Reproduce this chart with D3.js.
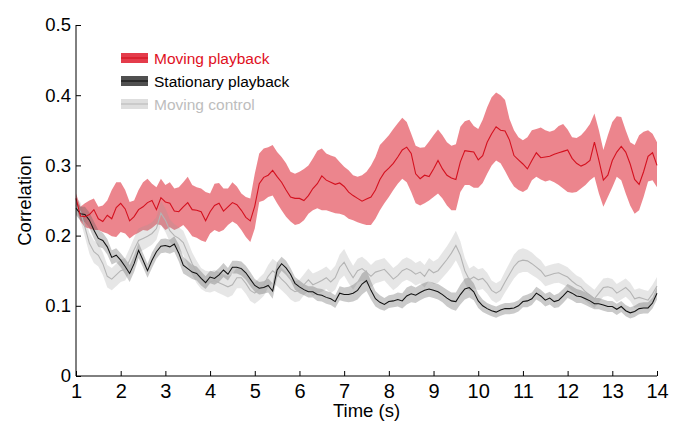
<!DOCTYPE html>
<html>
<head>
<meta charset="utf-8">
<script src="https://cdn.jsdelivr.net/npm/d3@7"></script>
<style>
  html, body { margin: 0; padding: 0; background: #fff; }
  svg { display: block; font-family: "Liberation Sans", Arial, Helvetica, sans-serif; }
</style>
</head>
<body>
<svg id="chart" width="679" height="423"></svg>
<script>
// ---- Data (time in seconds, 0.1 s steps from 1 to 14) ----
const time = d3.range(131).map(i => +(1 + i / 10).toFixed(1));

const xTicks = [1,2,3,4,5,6,7,8,9,10,11,12,13,14];
const yTicks = [0, 0.1, 0.2, 0.3, 0.4, 0.5];

const seriesNames = ["Moving playback", "Stationary playback", "Moving control"];

// Moving playback: mean, lower and upper edge of the shaded band
const movingMean = [
0.253,0.228,0.227,0.230,0.237,0.224,0.220,0.229,0.224,0.240,
0.246,0.238,0.221,0.227,0.237,0.241,0.247,0.250,0.237,0.254,
0.248,0.246,0.235,0.234,0.241,0.247,0.237,0.236,0.234,0.221,
0.234,0.243,0.246,0.235,0.241,0.247,0.244,0.236,0.226,0.221,
0.242,0.274,0.283,0.286,0.293,0.284,0.276,0.265,0.255,0.253,
0.253,0.250,0.257,0.267,0.274,0.285,0.279,0.276,0.273,0.275,
0.270,0.262,0.257,0.253,0.249,0.252,0.255,0.265,0.280,0.290,
0.296,0.303,0.312,0.322,0.326,0.317,0.288,0.281,0.286,0.284,
0.295,0.307,0.295,0.286,0.282,0.280,0.305,0.321,0.320,0.319,
0.308,0.314,0.333,0.345,0.355,0.350,0.349,0.336,0.314,0.308,
0.302,0.295,0.307,0.318,0.311,0.312,0.313,0.316,0.318,0.320,
0.322,0.310,0.303,0.299,0.302,0.307,0.333,0.307,0.279,0.286,
0.307,0.319,0.327,0.319,0.302,0.280,0.273,0.291,0.313,0.318,
0.300];
const movingUpper = [
0.260,0.241,0.246,0.250,0.253,0.241,0.243,0.250,0.265,0.276,
0.276,0.265,0.248,0.250,0.265,0.276,0.281,0.274,0.269,0.281,
0.272,0.276,0.267,0.269,0.276,0.284,0.272,0.269,0.267,0.262,
0.260,0.274,0.275,0.267,0.267,0.276,0.270,0.260,0.255,0.253,
0.288,0.317,0.324,0.326,0.329,0.319,0.312,0.303,0.291,0.288,
0.291,0.295,0.300,0.310,0.321,0.324,0.317,0.314,0.312,0.305,
0.298,0.293,0.286,0.284,0.286,0.291,0.300,0.312,0.329,0.336,
0.343,0.352,0.360,0.368,0.362,0.345,0.328,0.325,0.326,0.334,
0.343,0.351,0.343,0.333,0.328,0.330,0.355,0.363,0.365,0.356,
0.352,0.365,0.383,0.397,0.404,0.400,0.393,0.366,0.350,0.340,
0.336,0.340,0.350,0.352,0.354,0.350,0.348,0.350,0.356,0.359,
0.351,0.340,0.339,0.343,0.350,0.359,0.374,0.350,0.322,0.343,
0.362,0.370,0.369,0.350,0.333,0.329,0.343,0.348,0.350,0.345,
0.333];
const movingLower = [
0.243,0.220,0.212,0.210,0.208,0.208,0.205,0.203,0.199,0.198,
0.205,0.203,0.196,0.201,0.204,0.208,0.207,0.211,0.216,0.215,
0.208,0.212,0.208,0.211,0.215,0.208,0.199,0.197,0.193,0.191,
0.203,0.208,0.205,0.208,0.215,0.220,0.216,0.208,0.198,0.191,
0.210,0.248,0.250,0.255,0.257,0.246,0.236,0.227,0.220,0.215,
0.217,0.222,0.231,0.236,0.239,0.236,0.236,0.234,0.232,0.231,
0.229,0.224,0.222,0.219,0.217,0.215,0.215,0.224,0.236,0.246,
0.255,0.265,0.274,0.281,0.276,0.262,0.246,0.243,0.246,0.250,
0.255,0.260,0.253,0.243,0.236,0.236,0.262,0.272,0.272,0.268,
0.268,0.275,0.288,0.300,0.307,0.303,0.292,0.280,0.270,0.265,
0.262,0.266,0.279,0.284,0.280,0.277,0.279,0.276,0.272,0.267,
0.262,0.261,0.262,0.267,0.272,0.279,0.284,0.260,0.241,0.255,
0.269,0.284,0.279,0.260,0.243,0.231,0.236,0.255,0.277,0.279,
0.269];

// Stationary playback: mean and half-width of band
const stationaryMean = [
0.239,0.231,0.230,0.222,0.208,0.196,0.193,0.184,0.169,0.172,
0.165,0.156,0.146,0.160,0.179,0.165,0.150,0.165,0.177,0.185,
0.186,0.184,0.188,0.175,0.158,0.153,0.148,0.146,0.139,0.133,
0.141,0.139,0.144,0.151,0.145,0.155,0.155,0.153,0.147,0.138,
0.129,0.125,0.126,0.129,0.121,0.151,0.160,0.154,0.145,0.132,
0.127,0.123,0.120,0.120,0.116,0.115,0.112,0.110,0.106,0.118,
0.116,0.116,0.118,0.122,0.131,0.136,0.122,0.110,0.105,0.102,
0.106,0.107,0.109,0.107,0.114,0.117,0.115,0.119,0.122,0.124,
0.122,0.120,0.116,0.111,0.107,0.106,0.116,0.124,0.126,0.120,
0.107,0.100,0.096,0.093,0.091,0.094,0.096,0.096,0.097,0.100,
0.106,0.107,0.110,0.118,0.114,0.108,0.111,0.106,0.108,0.114,
0.121,0.118,0.114,0.113,0.110,0.107,0.103,0.103,0.101,0.099,
0.099,0.095,0.099,0.093,0.090,0.092,0.096,0.097,0.097,0.104,
0.118];
const stationarySem = [
0.010,0.010,0.011,0.011,0.012,0.012,0.011,0.011,0.010,0.010,
0.010,0.011,0.012,0.012,0.011,0.010,0.010,0.011,0.010,0.010,
0.010,0.010,0.011,0.012,0.012,0.011,0.010,0.010,0.010,0.009,
0.009,0.009,0.010,0.010,0.009,0.009,0.009,0.010,0.010,0.010,
0.009,0.009,0.009,0.010,0.011,0.011,0.010,0.010,0.009,0.009,
0.009,0.008,0.008,0.008,0.009,0.009,0.009,0.009,0.009,0.010,
0.010,0.011,0.012,0.013,0.015,0.015,0.013,0.011,0.010,0.009,
0.009,0.009,0.010,0.011,0.012,0.012,0.011,0.011,0.011,0.011,
0.011,0.011,0.011,0.012,0.012,0.013,0.014,0.015,0.014,0.012,
0.010,0.009,0.008,0.008,0.008,0.008,0.008,0.008,0.008,0.008,
0.008,0.009,0.009,0.009,0.009,0.009,0.009,0.009,0.010,0.010,
0.010,0.010,0.010,0.009,0.009,0.009,0.008,0.008,0.008,0.008,
0.008,0.008,0.008,0.008,0.008,0.008,0.008,0.008,0.008,0.008,
0.009];

// Moving control: mean and half-width of band
const controlMean = [
0.243,0.234,0.212,0.189,0.177,0.172,0.160,0.142,0.138,0.144,
0.150,0.152,0.165,0.180,0.193,0.196,0.199,0.203,0.210,0.232,
0.222,0.207,0.200,0.196,0.190,0.175,0.160,0.148,0.139,0.135,
0.134,0.136,0.133,0.130,0.127,0.130,0.140,0.140,0.132,0.122,
0.118,0.124,0.130,0.142,0.150,0.145,0.138,0.132,0.124,0.120,
0.122,0.130,0.137,0.130,0.133,0.136,0.140,0.134,0.140,0.155,
0.162,0.150,0.140,0.150,0.153,0.148,0.142,0.148,0.150,0.152,
0.145,0.138,0.143,0.150,0.153,0.150,0.145,0.148,0.142,0.152,
0.147,0.150,0.158,0.166,0.175,0.186,0.172,0.150,0.137,0.141,
0.137,0.139,0.132,0.122,0.118,0.122,0.134,0.145,0.156,0.163,
0.165,0.164,0.160,0.155,0.150,0.142,0.144,0.146,0.147,0.144,
0.141,0.135,0.130,0.127,0.120,0.115,0.110,0.118,0.126,0.127,
0.125,0.118,0.122,0.126,0.120,0.110,0.112,0.110,0.108,0.117,
0.128];
const controlSem = [
0.012,0.013,0.014,0.015,0.016,0.016,0.016,0.016,0.016,0.016,
0.016,0.016,0.017,0.017,0.017,0.017,0.016,0.016,0.016,0.017,
0.017,0.016,0.016,0.016,0.017,0.017,0.016,0.016,0.015,0.015,
0.015,0.015,0.015,0.015,0.015,0.015,0.015,0.015,0.015,0.015,
0.015,0.016,0.016,0.016,0.017,0.017,0.016,0.016,0.015,0.015,
0.015,0.015,0.016,0.016,0.016,0.016,0.016,0.016,0.017,0.018,
0.019,0.018,0.017,0.017,0.017,0.017,0.016,0.016,0.016,0.016,
0.016,0.016,0.016,0.016,0.016,0.016,0.016,0.016,0.016,0.016,
0.016,0.017,0.018,0.019,0.020,0.021,0.020,0.018,0.016,0.016,
0.015,0.015,0.015,0.014,0.014,0.014,0.015,0.016,0.017,0.017,
0.017,0.016,0.016,0.015,0.015,0.014,0.014,0.014,0.014,0.014,
0.014,0.014,0.013,0.013,0.013,0.013,0.013,0.013,0.013,0.013,
0.013,0.013,0.013,0.013,0.013,0.013,0.013,0.013,0.013,0.013,
0.013];

// ---- Layout ----
const svg = d3.select("#chart");
const margin = { left: 76, right: 22, top: 25, bottom: 47 };
const W = 679, H = 423;

const x = d3.scaleLinear().domain([1, 14]).range([margin.left, W - margin.right]);
const y = d3.scaleLinear().domain([0, 0.5]).range([H - margin.bottom, margin.top]);

const bandArea = (lo, hi) => d3.area()
  .x((d, i) => x(time[i]))
  .y0((d, i) => y(lo[i]))
  .y1((d, i) => y(hi[i]));

const meanLine = vals => d3.line()
  .x((d, i) => x(time[i]))
  .y((d, i) => y(vals[i]));

const plot = svg.append("g");

// bands
plot.append("path")
  .attr("d", bandArea(movingLower, movingUpper)(time))
  .attr("fill", "rgb(222,40,55)").attr("fill-opacity", 0.57);

const ctrlLo = controlMean.map((m, i) => m - controlSem[i]);
const ctrlHi = controlMean.map((m, i) => m + controlSem[i]);
plot.append("path")
  .attr("d", bandArea(ctrlLo, ctrlHi)(time))
  .attr("fill", "rgb(150,150,150)").attr("fill-opacity", 0.24);

const statLo = stationaryMean.map((m, i) => m - stationarySem[i]);
const statHi = stationaryMean.map((m, i) => m + stationarySem[i]);
plot.append("path")
  .attr("d", bandArea(statLo, statHi)(time))
  .attr("fill", "rgb(90,90,90)").attr("fill-opacity", 0.32);

// mean lines
plot.append("path").attr("d", meanLine(controlMean)(time))
  .attr("fill", "none").attr("stroke", "#b4b4b4").attr("stroke-width", 1.1);
plot.append("path").attr("d", meanLine(stationaryMean)(time))
  .attr("fill", "none").attr("stroke", "#111").attr("stroke-width", 1.05);
plot.append("path").attr("d", meanLine(movingMean)(time))
  .attr("fill", "none").attr("stroke", "#d4111f").attr("stroke-width", 1.1);

// ---- Axes ----
const xAxis = d3.axisBottom(x).tickValues(xTicks).tickSize(-5).tickPadding(8)
  .tickFormat(d3.format("d"));
const gx = svg.append("g").attr("transform", `translate(0,${y(0)})`).call(xAxis);
gx.select(".domain").attr("d", `M${x(1)},0H${x(14)}`).attr("stroke", "#000");
gx.selectAll("text").attr("font-size", 20).attr("fill", "#000")
  .attr("font-family", "'Liberation Sans', Arial, sans-serif");

const yAxis = d3.axisLeft(y).tickValues(yTicks).tickSize(-5).tickPadding(5)
  .tickFormat(d => d === 0 ? "0" : d3.format(".1f")(d));
const gy = svg.append("g").attr("transform", `translate(${x(1)},0)`).call(yAxis);
gy.select(".domain").attr("d", `M0,${y(0.5)}V${y(0)}`).attr("stroke", "#000");
gy.selectAll("text").attr("font-size", 18.5).attr("fill", "#000")
  .attr("font-family", "'Liberation Sans', Arial, sans-serif");

// axis titles
svg.append("text")
  .attr("x", (x(1) + x(14)) / 2).attr("y", 417)
  .attr("text-anchor", "middle").attr("font-size", 18.5).attr("fill", "#000")
  .text("Time (s)");
svg.append("text")
  .attr("transform", `translate(31,${(y(0) + y(0.5)) / 2}) rotate(-90)`)
  .attr("text-anchor", "middle").attr("font-size", 18.5).attr("fill", "#000")
  .text("Correlation");

// ---- Legend ----
const legendStyles = [
  { band: "rgb(228,60,75)", line: "#d4111f", text: "#e0101e" },
  { band: "rgb(80,80,80)", line: "#111", text: "#000" },
  { band: "rgb(222,222,222)", line: "#bdbdbd", text: "#bdbdbd" }
];
const lg = svg.append("g").attr("transform", "translate(121,58)");
seriesNames.forEach((name, i) => {
  const g = lg.append("g").attr("transform", `translate(0,${i * 23})`);
  g.append("rect").attr("x", 0).attr("y", -5).attr("width", 27).attr("height", 10)
    .attr("fill", legendStyles[i].band);
  g.append("line").attr("x1", 0).attr("x2", 27).attr("y1", 0).attr("y2", 0)
    .attr("stroke", legendStyles[i].line).attr("stroke-width", 1.2);
  g.append("text").attr("x", 33).attr("y", 5.5)
    .attr("font-size", 15.5).attr("fill", legendStyles[i].text).text(name);
});
</script>
</body>
</html>
